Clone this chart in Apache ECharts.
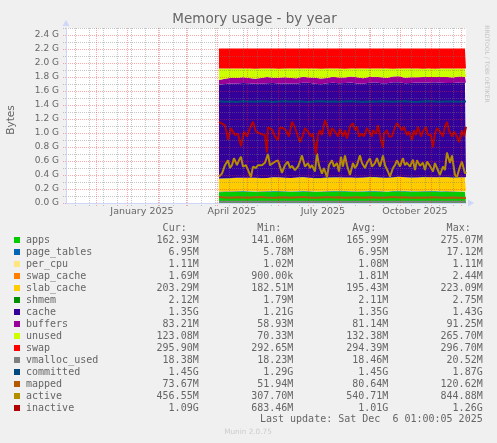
<!DOCTYPE html>
<html><head><meta charset="utf-8">
<script src="https://cdn.jsdelivr.net/npm/echarts@6/dist/echarts.min.js"></script>
<style>html,body{margin:0;padding:0;background:#F0F0F0;}#c{width:497px;height:443px;}</style>
</head><body><div id="c"></div>
<script>
// ---- data (MiB unless noted) ----
const stackDates = ['04-03','04-09','04-15','04-21','04-27','05-03','05-09','05-15','05-21','05-27','06-02','06-08','06-14','06-20','06-26','07-02','07-08','07-14','07-20','07-26','08-01','08-07','08-13','08-19','08-25','08-31','09-06','09-12','09-18','09-24','09-30','10-06','10-12','10-18','10-24','10-30','11-05','11-11','11-17','11-23','11-29','12-05','12-06'];
const apps = [158,160,162,165,168,166,163,161,165,170,167,164,162,166,169,165,163,160,164,168,171,167,164,162,166,170,168,165,163,167,172,169,166,163,165,168,170,166,164,161,163,165,163];
const pageTables = [6.8,7.0,6.9,7.1,6.9,7.0,6.8,6.9,7.0,7.2,6.9,6.8,7.0,6.9,7.1,7.0,6.8,6.9,7.0,6.9,7.1,7.0,6.9,6.8,7.0,6.9,7.0,7.1,6.9,6.8,7.0,6.9,7.0,7.1,6.9,7.0,6.8,6.9,7.0,6.9,7.0,6.9,6.95];
const perCpu = [1.02,1.02,1.03,1.03,1.03,1.04,1.04,1.04,1.05,1.05,1.05,1.06,1.06,1.06,1.07,1.07,1.07,1.08,1.08,1.08,1.08,1.09,1.09,1.09,1.09,1.10,1.10,1.10,1.10,1.10,1.11,1.11,1.11,1.11,1.11,1.11,1.11,1.11,1.11,1.11,1.11,1.11,1.11];
const swapCache = [1.9,2.1,1.8,1.7,2.0,1.9,1.6,1.8,2.2,1.9,1.7,1.8,2.0,1.6,1.9,2.1,1.8,1.7,1.9,2.0,1.8,1.6,1.7,1.9,2.2,1.8,1.7,1.9,1.6,1.8,2.0,1.9,1.7,1.8,1.6,1.9,1.8,1.7,2.0,1.8,1.7,1.7,1.69];
const slabCache = [188,190,192,194,191,193,196,192,190,195,197,194,192,196,198,193,191,194,197,195,192,196,199,195,193,197,200,196,194,198,201,197,195,199,202,198,196,200,203,199,201,202,203];
const shmem = [2.0,2.1,2.1,2.0,2.2,2.1,2.0,2.1,2.2,2.1,2.0,2.1,2.1,2.2,2.0,2.1,2.1,2.0,2.2,2.1,2.1,2.0,2.1,2.2,2.1,2.0,2.1,2.1,2.2,2.0,2.1,2.1,2.0,2.2,2.1,2.1,2.0,2.1,2.2,2.1,2.1,2.1,2.12];
const cache = [1372,1378,1381,1376,1384,1379,1374,1380,1386,1377,1372,1379,1383,1376,1381,1387,1378,1373,1380,1385,1377,1382,1388,1379,1374,1381,1386,1378,1383,1389,1380,1375,1382,1387,1379,1384,1390,1381,1376,1383,1388,1385,1382];
const buffers = [70,76,84,80,86,79,73,82,88,77,84,90,81,75,85,80,88,83,76,87,82,79,86,90,78,84,81,87,76,83,89,80,85,78,86,82,74,84,88,80,85,82,83];
const unused = [166,150,135,139,125,137,148,139,125,135,134,127,136,141,121,129,134,144,137,119,132,130,117,128,143,122,119,128,138,117,112,133,126,127,122,122,124,123,123,131,117,120,123];
const swap = [292.7,293.4,293.1,293.8,294.2,293.9,294.5,294.1,294.6,294.3,294.8,294.4,294.2,294.7,295.0,294.6,294.9,294.3,294.8,295.1,294.7,294.5,295.0,294.8,294.4,294.9,295.2,294.7,295.0,294.6,295.3,294.9,294.5,295.1,294.8,295.4,295.0,294.7,295.6,295.2,295.8,296.0,295.9];
const vmallocUsed = [18.3,18.4,18.5,18.4,18.3,18.5,18.4,18.6,18.4,18.3,18.5,18.4,18.5,18.4,18.3,18.5,18.6,18.4,18.5,18.4,18.3,18.5,18.4,18.5,18.6,18.4,18.5,18.4,18.3,18.5,18.4,18.5,18.4,18.6,18.5,18.4,18.5,18.4,18.3,18.4,18.4,18.4,18.38];
const committed = [1490,1482,1486,1479,1488,1484,1480,1487,1483,1478,1485,1489,1481,1486,1483,1477,1484,1488,1482,1486,1480,1485,1489,1483,1479,1486,1482,1487,1484,1480,1485,1488,1482,1478,1484,1487,1483,1480,1486,1484,1482,1485,1485];
const mapped = [86,82,78,84,80,76,83,88,79,75,81,85,78,83,87,80,76,82,86,79,84,77,81,85,78,83,80,76,82,87,79,84,78,81,76,80,83,77,75,79,76,74,73.7];
// active / inactive (GiB), own sample dates in 2025
const activeDates = ['04-03','04-06','04-09','04-12','04-14','04-16','04-18','04-21','04-23','04-25','04-27','04-30','05-02','05-05','05-07','05-10','05-12','05-16','05-19','05-22','05-24','05-26','05-29','06-01','06-03','06-05','06-08','06-11','06-13','06-15','06-18','06-21','06-23','06-25','06-28','07-01','07-03','07-05','07-08','07-10','07-12','07-15','07-17','07-20','07-22','07-25','07-27','07-30','08-01','08-03','08-05','08-07','08-09','08-12','08-15','08-17','08-19','08-22','08-24','08-27','08-29','09-01','09-03','09-06','09-08','09-11','09-14','09-16','09-19','09-21','09-24','09-26','09-28','10-01','10-04','10-06','10-08','10-11','10-14','10-16','10-18','10-21','10-24','10-26','10-28','10-31','11-03','11-05','11-07','11-10','11-13','11-15','11-17','11-20','11-22','11-25','11-27','11-30','12-02','12-05','12-06'];
const active = [0.375,0.42,0.54,0.61,0.50,0.54,0.64,0.54,0.61,0.66,0.52,0.54,0.52,0.37,0.52,0.50,0.54,0.54,0.575,0.70,0.54,0.52,0.59,0.61,0.52,0.43,0.54,0.59,0.50,0.53,0.47,0.52,0.59,0.68,0.52,0.57,0.50,0.54,0.45,0.71,0.54,0.42,0.50,0.37,0.54,0.61,0.52,0.57,0.45,0.66,0.52,0.68,0.54,0.40,0.57,0.50,0.54,0.68,0.57,0.50,0.57,0.64,0.52,0.57,0.64,0.52,0.68,0.54,0.45,0.375,0.50,0.54,0.61,0.52,0.64,0.54,0.575,0.52,0.62,0.47,0.61,0.53,0.575,0.47,0.59,0.53,0.45,0.57,0.50,0.40,0.52,0.47,0.72,0.57,0.68,0.40,0.37,0.52,0.59,0.42,0.446];
const inactiveDates = ['04-03','04-09','04-11','04-12','04-15','04-17','04-19','04-22','04-25','04-28','05-01','05-04','05-07','05-10','05-12','05-16','05-19','05-21','05-22','05-26','05-29','06-01','06-03','06-06','06-09','06-12','06-15','06-18','06-21','06-23','06-26','06-28','07-01','07-04','07-06','07-09','07-11','07-13','07-15','07-18','07-20','07-23','07-25','07-28','07-31','08-02','08-05','08-07','08-09','08-12','08-15','08-17','08-19','08-21','08-24','08-26','08-29','08-31','09-03','09-04','09-07','09-09','09-12','09-14','09-15','09-18','09-20','09-23','09-25','09-28','09-30','10-03','10-05','10-08','10-10','10-13','10-15','10-17','10-19','10-22','10-24','10-27','10-29','11-01','11-03','11-05','11-07','11-10','11-13','11-15','11-17','11-19','11-22','11-24','11-27','11-29','12-02','12-04','12-06'];
const inactive = [1.16,1.11,0.99,0.90,1.07,1.09,0.97,0.99,0.81,1.02,0.95,1.07,1.16,1.02,1.04,0.98,0.97,0.72,1.08,1.05,0.95,0.90,1.08,1.07,1.04,0.95,1.16,1.08,0.95,0.87,0.97,1.07,1.02,0.95,0.99,0.69,0.97,1.04,0.97,1.18,1.11,0.95,1.07,1.02,0.95,1.06,0.95,1.04,0.92,1.09,1.14,1.04,1.09,0.95,0.99,0.95,1.07,1.02,0.95,1.04,0.99,1.11,0.90,0.79,0.99,1.04,0.95,0.95,1.04,1.14,1.16,1.04,1.09,0.97,1.02,0.90,1.04,0.97,1.09,0.95,1.02,1.09,0.97,0.97,0.80,0.99,1.07,1.02,0.95,1.09,1.16,1.04,0.95,1.02,0.95,0.87,1.04,0.95,1.09];

const names = ['apps','page_tables','per_cpu','swap_cache','slab_cache','shmem','cache','buffers','unused','swap','vmalloc_used','committed','mapped','active','inactive'];
const colors = ['#00CC00','#0066B3','#FFE680','#FF8000','#FFCC00','#008F00','#330099','#990099','#CCFF00','#FF0000','#808080','#00487D','#B35A00','#B38F00','#B30000'];
const curTxt = ['162.93M','6.95M','1.11M','1.69M','203.29M','2.12M','1.35G','83.21M','123.08M','295.90M','18.38M','1.45G','73.67M','456.55M','1.09G'];
const minTxt = ['141.06M','5.78M','1.02M','900.00k','182.51M','1.79M','1.21G','58.93M','70.33M','292.65M','18.23M','1.29G','51.94M','307.70M','683.46M'];
const avgTxt = ['165.99M','6.95M','1.08M','1.81M','195.43M','2.11M','1.35G','81.14M','132.38M','294.39M','18.46M','1.45G','80.64M','540.71M','1.01G'];
const maxTxt = ['275.07M','17.12M','1.11M','2.44M','223.09M','2.75M','1.43G','91.25M','265.70M','296.70M','20.52M','1.87G','120.62M','844.88M','1.26G'];
const monthStarts = ['2024-12-01','2025-01-01','2025-02-01','2025-03-01','2025-04-01','2025-05-01','2025-06-01','2025-07-01','2025-08-01','2025-09-01','2025-10-01','2025-11-01','2025-12-01'];
const minorDates = ['2024-11-10','2024-11-24','2024-12-08','2024-12-22','2025-01-05','2025-01-19','2025-02-02','2025-02-16','2025-03-02','2025-03-16','2025-03-30','2025-04-13','2025-04-27','2025-05-11','2025-05-25','2025-06-08','2025-06-22','2025-07-06','2025-07-20','2025-08-03','2025-08-17','2025-08-31','2025-09-14','2025-09-28','2025-10-12','2025-10-26','2025-11-09','2025-11-23'];
const labelDates = ['2025-01-16','2025-04-16','2025-07-16','2025-10-16'];
const monthNames = ['January','February','March','April','May','June','July','August','September','October','November','December'];
const yMajor = [0,0.2,0.4,0.6,0.8,1.0,1.2,1.4,1.6,1.8,2.0,2.2,2.4];
const yMinor = [0.1,0.3,0.5,0.7,0.9,1.1,1.3,1.5,1.7,1.9,2.1,2.3,2.5];

// ---- build ----
function ts(s){const p=s.split('-').map(Number);return new Date(p[0],p[1]-1,p[2]).getTime();}
const tMin = new Date(2024,10,1,1,0,5).getTime();
const tMax = new Date(2025,11,6,1,0,5).getTime();
const stackVals = [apps,pageTables,perCpu,swapCache,slabCache,shmem,cache,buffers,unused,swap];
const series = [];
stackVals.forEach((vals,k)=>{
  series.push({name:names[k],type:'line',stack:'mem',symbol:'none',silent:true,animation:false,z:2,
    xAxisIndex:0,yAxisIndex:0,
    lineStyle:{width:0},itemStyle:{color:colors[k]},areaStyle:{color:colors[k],opacity:1},
    data:stackDates.map((d,i)=>[ts('2025-'+d),vals[i]/1024])});
});
[[vmallocUsed,10],[committed,11],[mapped,12]].forEach(([vals,k])=>{
  series.push({name:names[k],type:'line',symbol:'none',silent:true,animation:false,z:3,
    xAxisIndex:0,yAxisIndex:0,
    lineStyle:{width:2,color:colors[k]},itemStyle:{color:colors[k]},
    data:stackDates.map((d,i)=>[ts('2025-'+d),vals[i]/1024])});
});
series.push({name:'active',type:'line',symbol:'none',silent:true,animation:false,z:3,xAxisIndex:0,yAxisIndex:0,
  lineStyle:{width:2,color:colors[13]},itemStyle:{color:colors[13]},
  data:activeDates.map((d,i)=>[ts('2025-'+d),active[i]])});
series.push({name:'inactive',type:'line',symbol:'none',silent:true,animation:false,z:3,xAxisIndex:0,yAxisIndex:0,
  lineStyle:{width:2,color:colors[14]},itemStyle:{color:colors[14]},
  data:inactiveDates.map((d,i)=>[ts('2025-'+d),inactive[i]])});

const red='rgba(255,30,30,0.38)', gray='rgba(120,120,120,0.42)';
const axisCol='#CFD6F8', fontCol='#666666';
const mono='"DejaVu Sans Mono"';
const graphic=[];
graphic.push({type:'text',x:254.5,y:19,style:{text:'Memory usage - by year',fill:fontCol,fontSize:13.5,fontFamily:'DejaVu Sans',align:'center',verticalAlign:'middle'}});
graphic.push({type:'text',x:11,y:120,rotation:Math.PI/2,style:{text:'Bytes',fill:fontCol,fontSize:10.5,fontFamily:'DejaVu Sans',align:'center',verticalAlign:'middle'}});
graphic.push({type:'text',x:487,y:64,rotation:-Math.PI/2,style:{text:'RRDTOOL / TOBI OETIKER',fill:'#c4c4c4',fontSize:6,fontFamily:'DejaVu Sans',align:'center',verticalAlign:'middle'}});
graphic.push({type:'text',x:248,y:432,style:{text:'Munin 2.0.75',fill:'#cccccc',fontSize:7.3,fontFamily:'DejaVu Sans',align:'center',verticalAlign:'middle'}});
const colEnds=[198.7,293.3,388.3,482.7];
['Cur:','Min:','Avg:','Max:'].forEach((h,j)=>{
  graphic.push({type:'text',x:colEnds[j]-12,y:228.3,style:{text:h,fill:fontCol,fontSize:10,fontFamily:mono,align:'right',verticalAlign:'middle'}});
});
names.forEach((n,i)=>{
  const y=240+12*i;
  graphic.push({type:'rect',shape:{x:14,y:y-3,width:6,height:6},style:{fill:colors[i]}});
  graphic.push({type:'text',x:26,y:y,style:{text:n,fill:fontCol,fontSize:10,fontFamily:mono,align:'left',verticalAlign:'middle'}});
  [curTxt,minTxt,avgTxt,maxTxt].forEach((arr,j)=>{
    graphic.push({type:'text',x:colEnds[j],y:y,style:{text:arr[i],fill:fontCol,fontSize:10,fontFamily:mono,align:'right',verticalAlign:'middle'}});
  });
});
graphic.push({type:'text',x:482.7,y:419.5,style:{text:'Last update: Sat Dec  6 01:00:05 2025',fill:fontCol,fontSize:10,fontFamily:mono,align:'right',verticalAlign:'middle'}});

const chart = echarts.init(document.getElementById('c'),null,{renderer:'canvas'});
chart.setOption({
  animation:false,
  backgroundColor:'#F0F0F0',
  grid:{left:66,top:28,width:400,height:175,show:true,backgroundColor:'#FFFFFF',borderWidth:0,containLabel:false},
  xAxis:[
    {type:'time',min:tMin,max:tMax,z:11,position:'bottom',
     axisLine:{show:true,lineStyle:{color:axisCol,width:1},symbol:['none','triangle'],symbolSize:[7,6],symbolOffset:[0,5]},
     axisTick:{show:false},splitLine:{show:false},axisLabel:{show:false}},
    {type:'value',min:tMin,max:tMax,z:10,position:'bottom',scale:true,
     axisLine:{show:false},
     axisTick:{show:true,customValues:monthStarts.map(ts),length:3,lineStyle:{color:red,type:[1,1]}},
     splitLine:{show:true,customValues:monthStarts.map(ts),lineStyle:{color:red,type:[1,1],width:1}},
     axisLabel:{show:true,customValues:labelDates.map(ts),formatter:(v)=>{const d=new Date(v);return monthNames[d.getMonth()]+' '+d.getFullYear();},
       color:fontCol,fontSize:9.5,fontFamily:'DejaVu Sans',margin:4,hideOverlap:false}},
    {type:'value',min:tMin,max:tMax,z:9,position:'bottom',scale:true,
     axisLine:{show:false},axisLabel:{show:false},
     axisTick:{show:true,customValues:minorDates.map(ts),length:3,lineStyle:{color:gray,type:[1,1]}},
     splitLine:{show:true,customValues:minorDates.map(ts),lineStyle:{color:gray,type:[1,1],width:1}}}
  ],
  yAxis:[
    {type:'value',min:0,max:2.5,z:11,
     axisLine:{show:true,lineStyle:{color:axisCol,width:1},symbol:['none','triangle'],symbolSize:[7,6],symbolOffset:[0,5]},
     axisTick:{show:true,customValues:yMajor,length:3,lineStyle:{color:red,type:[1,1]}},
     splitLine:{show:true,customValues:yMajor,lineStyle:{color:red,type:[1,1],width:1}},
     axisLabel:{show:true,customValues:yMajor,formatter:(v)=>v.toFixed(1)+' G',color:fontCol,fontSize:9,fontFamily:'DejaVu Sans',margin:7}},
    {type:'value',min:0,max:2.5,z:9,position:'left',
     axisLine:{show:false},axisLabel:{show:false},
     axisTick:{show:true,customValues:yMinor,length:3,lineStyle:{color:gray,type:[1,1]}},
     splitLine:{show:true,customValues:yMinor,lineStyle:{color:gray,type:[1,1],width:1}}}
  ],
  series:series,
  graphic:graphic
});
</script></body></html>
